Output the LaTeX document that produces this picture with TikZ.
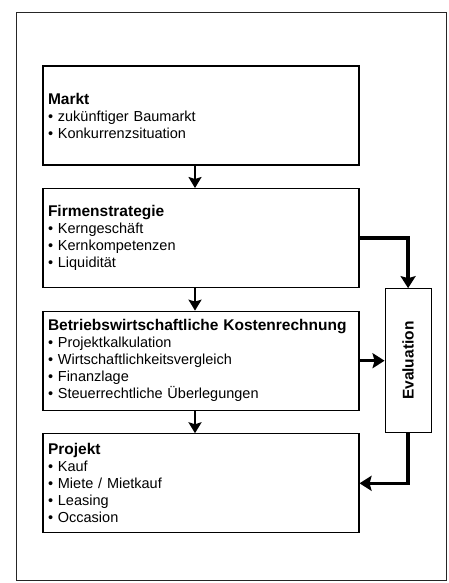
\documentclass[tikz,border=0pt]{standalone}
\usepackage{fontspec}
\setmainfont{Liberation Sans}
\usetikzlibrary{arrows.meta, positioning}
\tikzset{
    boxnode/.style={rectangle, draw, line width=1.1pt, text width=306pt, inner xsep=5pt, minimum height=99pt, align=left, font=\fontsize{14.5}{17}\selectfont},
    evalnode/.style={rectangle, draw, line width=1.1pt, minimum width=46pt, minimum height=144pt, inner sep=0pt, font=\fontsize{15.5}{17}\selectfont\bfseries},
    downarrow/.style={draw, line width=2.5pt, -{Stealth[length=11pt, width=13pt, inset=2pt]}},
    evalarrow/.style={draw, line width=3.4pt, -{Stealth[length=12pt, width=15pt, inset=2pt]}},
}
\newcommand{\boxtitel}[1]{{\fontsize{15.5}{17}\selectfont\bfseries #1}}

\begin{document}
\begin{tikzpicture}[x=1pt, y=-1pt, node distance=22.5pt]
    \useasboundingbox (0,0) rectangle (449,583);
    \draw[black!85, line width=0.9pt] (16,12) rectangle (446,580);

    \node[boxnode] (markt) at (201,115.5) {\boxtitel{Markt}\\
        • zukünftiger Baumarkt\\
        • Konkurrenzsituation};
    \node[boxnode, below=of markt] (firma) {\boxtitel{Firmenstrategie}\\
        • Kerngeschäft\\
        • Kernkompetenzen\\
        • Liquidität};
    \node[boxnode, below=of firma] (kosten) {\boxtitel{Betriebswirtschaftliche Kostenrechnung}\\
        • Projektkalkulation\\
        • Wirtschaftlichkeitsvergleich\\
        • Finanzlage\\
        • Steuerrechtliche Überlegungen};
    \node[boxnode, below=of kosten] (projekt) {\boxtitel{Projekt}\\
        • Kauf\\
        • Miete / Mietkauf\\
        • Leasing\\
        • Occasion};
    \node[evalnode, right=25pt of kosten] (eval) {\rotatebox{90}{Evaluation}};

    \draw[downarrow] ([xshift=-6pt]markt.south) -- ([xshift=-6pt]firma.north);
    \draw[downarrow] ([xshift=-6pt]firma.south) -- ([xshift=-6pt]kosten.north);
    \draw[downarrow] ([xshift=-6pt]kosten.south) -- ([xshift=-6pt]projekt.north);

    \draw[evalarrow] (firma.east) -| (eval.north);
    \draw[evalarrow] (kosten.east) -- (eval.west);
    \draw[evalarrow] (eval.south) |- (projekt.east);
\end{tikzpicture}
\end{document}
